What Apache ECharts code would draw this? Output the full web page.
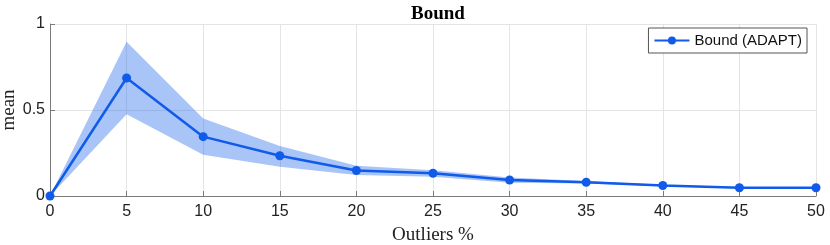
<!DOCTYPE html>
<html>
<head>
<meta charset="utf-8">
<script src="https://cdn.jsdelivr.net/npm/echarts@6/dist/echarts.min.js"></script>
<style>html,body{margin:0;padding:0;background:#fff}#c{width:830px;height:245px}</style>
</head>
<body>
<div id="c"></div>
<script>
const categories = ['0','5','10','15','20','25','30','35','40','45','50'];
const meanValues = [0, 0.686, 0.345, 0.234, 0.148, 0.132, 0.093, 0.080, 0.061, 0.048, 0.048];
const upperValues = [0, 0.897, 0.450, 0.290, 0.176, 0.150, 0.107, 0.087, 0.066, 0.052, 0.052];
const lowerValues = [0, 0.475, 0.240, 0.170, 0.122, 0.112, 0.077, 0.073, 0.056, 0.044, 0.044];
const yTicks = [0, 0.5, 1];

const bandWidth = upperValues.map((u, i) => +(u - lowerValues[i]).toFixed(4));
const lineColor = '#105be9';
const chart = echarts.init(document.getElementById('c'), null, {renderer: 'canvas'});
chart.setOption({
  animation: false,
  title: {
    text: 'Bound', left: 433, top: 0, textAlign: 'center',
    textStyle: {fontFamily: 'Liberation Serif', fontWeight: 'bold', fontSize: 19, color: '#000'}
  },
  legend: {
    data: ['Bound (ADAPT)'], right: 23, top: 28,
    padding: [5, 5], itemWidth: 35, itemHeight: 10, itemGap: 6,
    borderColor: '#555', borderWidth: 1, backgroundColor: '#fff',
    textStyle: {fontFamily: 'Liberation Sans', fontSize: 15, color: '#111', lineHeight: 14}
  },
  grid: {left: 50, right: 14, top: 24, bottom: 49, containLabel: false, outerBoundsMode: 'none'},
  xAxis: {
    type: 'category', data: categories, boundaryGap: false,
    name: 'Outliers %', nameLocation: 'middle', nameGap: 30, nameMoveOverlap: false,
    nameTextStyle: {fontFamily: 'Liberation Serif', fontSize: 19, color: '#222'},
    axisLine: {lineStyle: {color: '#7a7a7a', width: 1}},
    axisTick: {inside: true, length: 5, lineStyle: {color: '#7a7a7a'}},
    axisLabel: {fontFamily: 'Liberation Sans', fontSize: 16, color: '#222', margin: 8},
    splitLine: {show: true, lineStyle: {color: '#e4e4e4'}}
  },
  yAxis: {
    type: 'value', min: 0, max: 1, interval: 0.5,
    name: 'mean', nameLocation: 'middle', nameGap: 31, nameRotate: 90, nameMoveOverlap: false,
    nameTextStyle: {fontFamily: 'Liberation Serif', fontSize: 19, color: '#222'},
    axisLine: {show: true, lineStyle: {color: '#7a7a7a', width: 1}},
    axisTick: {show: true, inside: true, length: 5, lineStyle: {color: '#7a7a7a'}},
    axisLabel: {fontFamily: 'Liberation Sans', fontSize: 16, color: '#222', margin: 5,
      formatter: v => yTicks.includes(v) ? String(v) : ''},
    splitLine: {show: true, lineStyle: {color: '#e4e4e4'}}
  },
  series: [
    {
      name: 'lower', type: 'line', data: lowerValues, stack: 'band',
      symbol: 'none', lineStyle: {opacity: 0}, silent: true, z: 1
    },
    {
      name: 'band', type: 'line', data: bandWidth, stack: 'band',
      symbol: 'none', lineStyle: {opacity: 0}, silent: true, z: 1,
      areaStyle: {color: 'rgba(16,91,233,0.36)', opacity: 1}
    },
    {
      name: 'Bound (ADAPT)', type: 'line', data: meanValues, z: 3,
      symbol: 'circle', symbolSize: 9,
      lineStyle: {color: lineColor, width: 2.5},
      itemStyle: {color: lineColor}
    }
  ]
});
</script>
</body>
</html>
